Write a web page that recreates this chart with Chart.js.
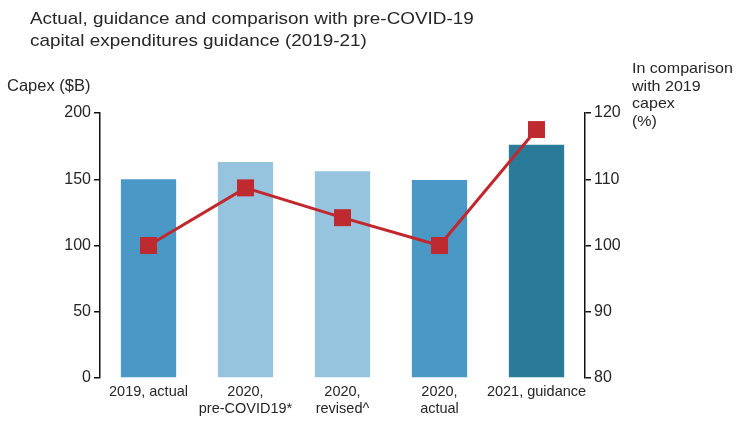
<!DOCTYPE html>
<html>
<head>
<meta charset="utf-8">
<script src="https://cdn.jsdelivr.net/npm/chart.js@4/dist/chart.umd.min.js"></script>
<style>
  html, body { margin: 0; padding: 0; background: #fff; }
  #wrap { position: relative; width: 736px; height: 424px; font-family: "Liberation Sans", Arial, sans-serif; color: #262626; }
  canvas { position: absolute; left: 0; top: 0; }
  .lbl { position: absolute; white-space: nowrap; transform-origin: 0 0; }
  #title { left: 30px; top: 8px; font-size: 17px; line-height: 22px; transform: scaleX(1.11); }
  #ytitle { left: 7px; top: 76px; font-size: 16.5px; }
  #y1title { left: 632px; top: 59px; font-size: 15px; line-height: 17.5px; transform: scaleX(1.07); }
</style>
</head>
<body>
<div id="wrap">
  <canvas id="c" width="736" height="424"></canvas>
  <div class="lbl" id="title">Actual, guidance and comparison with pre-COVID-19<br>capital expenditures guidance (2019-21)</div>
  <div class="lbl" id="ytitle">Capex ($B)</div>
  <div class="lbl" id="y1title">In comparison<br>with 2019<br>capex<br>(%)</div>
</div>
<script>
// Categories and values
const categories = [
  ["2019, actual"],
  ["2020,", "pre-COVID19*"],
  ["2020,", "revised^"],
  ["2020,", "actual"],
  ["2021, guidance"]
];
const capexBillions = [150, 163, 156, 149.5, 176];
const pctOf2019 = [100, 108.7, 104.2, 100, 117.5];
const capexTicks = [0, 50, 100, 150, 200];
const pctTicks = [80, 90, 100, 110, 120];

const barColors = ["#4a98c5", "#96c3de", "#96c3de", "#4a98c5", "#2a7a9a"];
const textColor = "#262626";
const fontFamily = "'Liberation Sans', Arial, sans-serif";

new Chart(document.getElementById("c"), {
  data: {
    labels: categories,
    datasets: [
      {
        type: "line",
        data: pctOf2019,
        yAxisID: "y1",
        order: 0,
        borderColor: "#c1272d",
        borderWidth: 3,
        pointStyle: "rect",
        pointRadius: 12,
        pointHoverRadius: 12,
        pointBackgroundColor: "#bf2a30",
        pointBorderColor: "#bf2a30",
        pointBorderWidth: 0,
        tension: 0,
        clip: false
      },
      {
        type: "bar",
        data: capexBillions,
        yAxisID: "y",
        order: 1,
        backgroundColor: barColors,
        categoryPercentage: 1,
        barPercentage: 0.57
      }
    ]
  },
  options: {
    responsive: false,
    animation: false,
    events: [],
    layout: { padding: { left: 0, right: 0, top: 113, bottom: 0 } },
    plugins: { legend: { display: false }, tooltip: { enabled: false }, title: { display: false } },
    scales: {
      x: {
        grid: { display: false, drawTicks: false },
        border: { display: false },
        ticks: { color: textColor, font: { family: fontFamily, size: 14.5, lineHeight: 1.15 }, padding: 6, maxRotation: 0, autoSkip: false },
        afterFit: s => { s.height = 46; }
      },
      y: {
        position: "left",
        min: 0, max: 200,
        afterBuildTicks: s => { s.ticks = capexTicks.map(v => ({ value: v })); },
        grid: { drawOnChartArea: false, drawTicks: true, tickLength: 6, color: "#111", lineWidth: 1.5 },
        border: { display: true, color: "#111", width: 1.5 },
        ticks: { color: textColor, font: { family: fontFamily, size: 16 }, padding: 3 },
        afterFit: s => { s.width = 100; }
      },
      y1: {
        position: "right",
        min: 80, max: 120,
        afterBuildTicks: s => { s.ticks = pctTicks.map(v => ({ value: v })); },
        grid: { drawOnChartArea: false, drawTicks: true, tickLength: 6, color: "#111", lineWidth: 1.5 },
        border: { display: true, color: "#111", width: 1.5 },
        ticks: { color: textColor, font: { family: fontFamily, size: 16 }, padding: 3 },
        afterFit: s => { s.width = 151; }
      }
    }
  }
});
</script>
</body>
</html>
